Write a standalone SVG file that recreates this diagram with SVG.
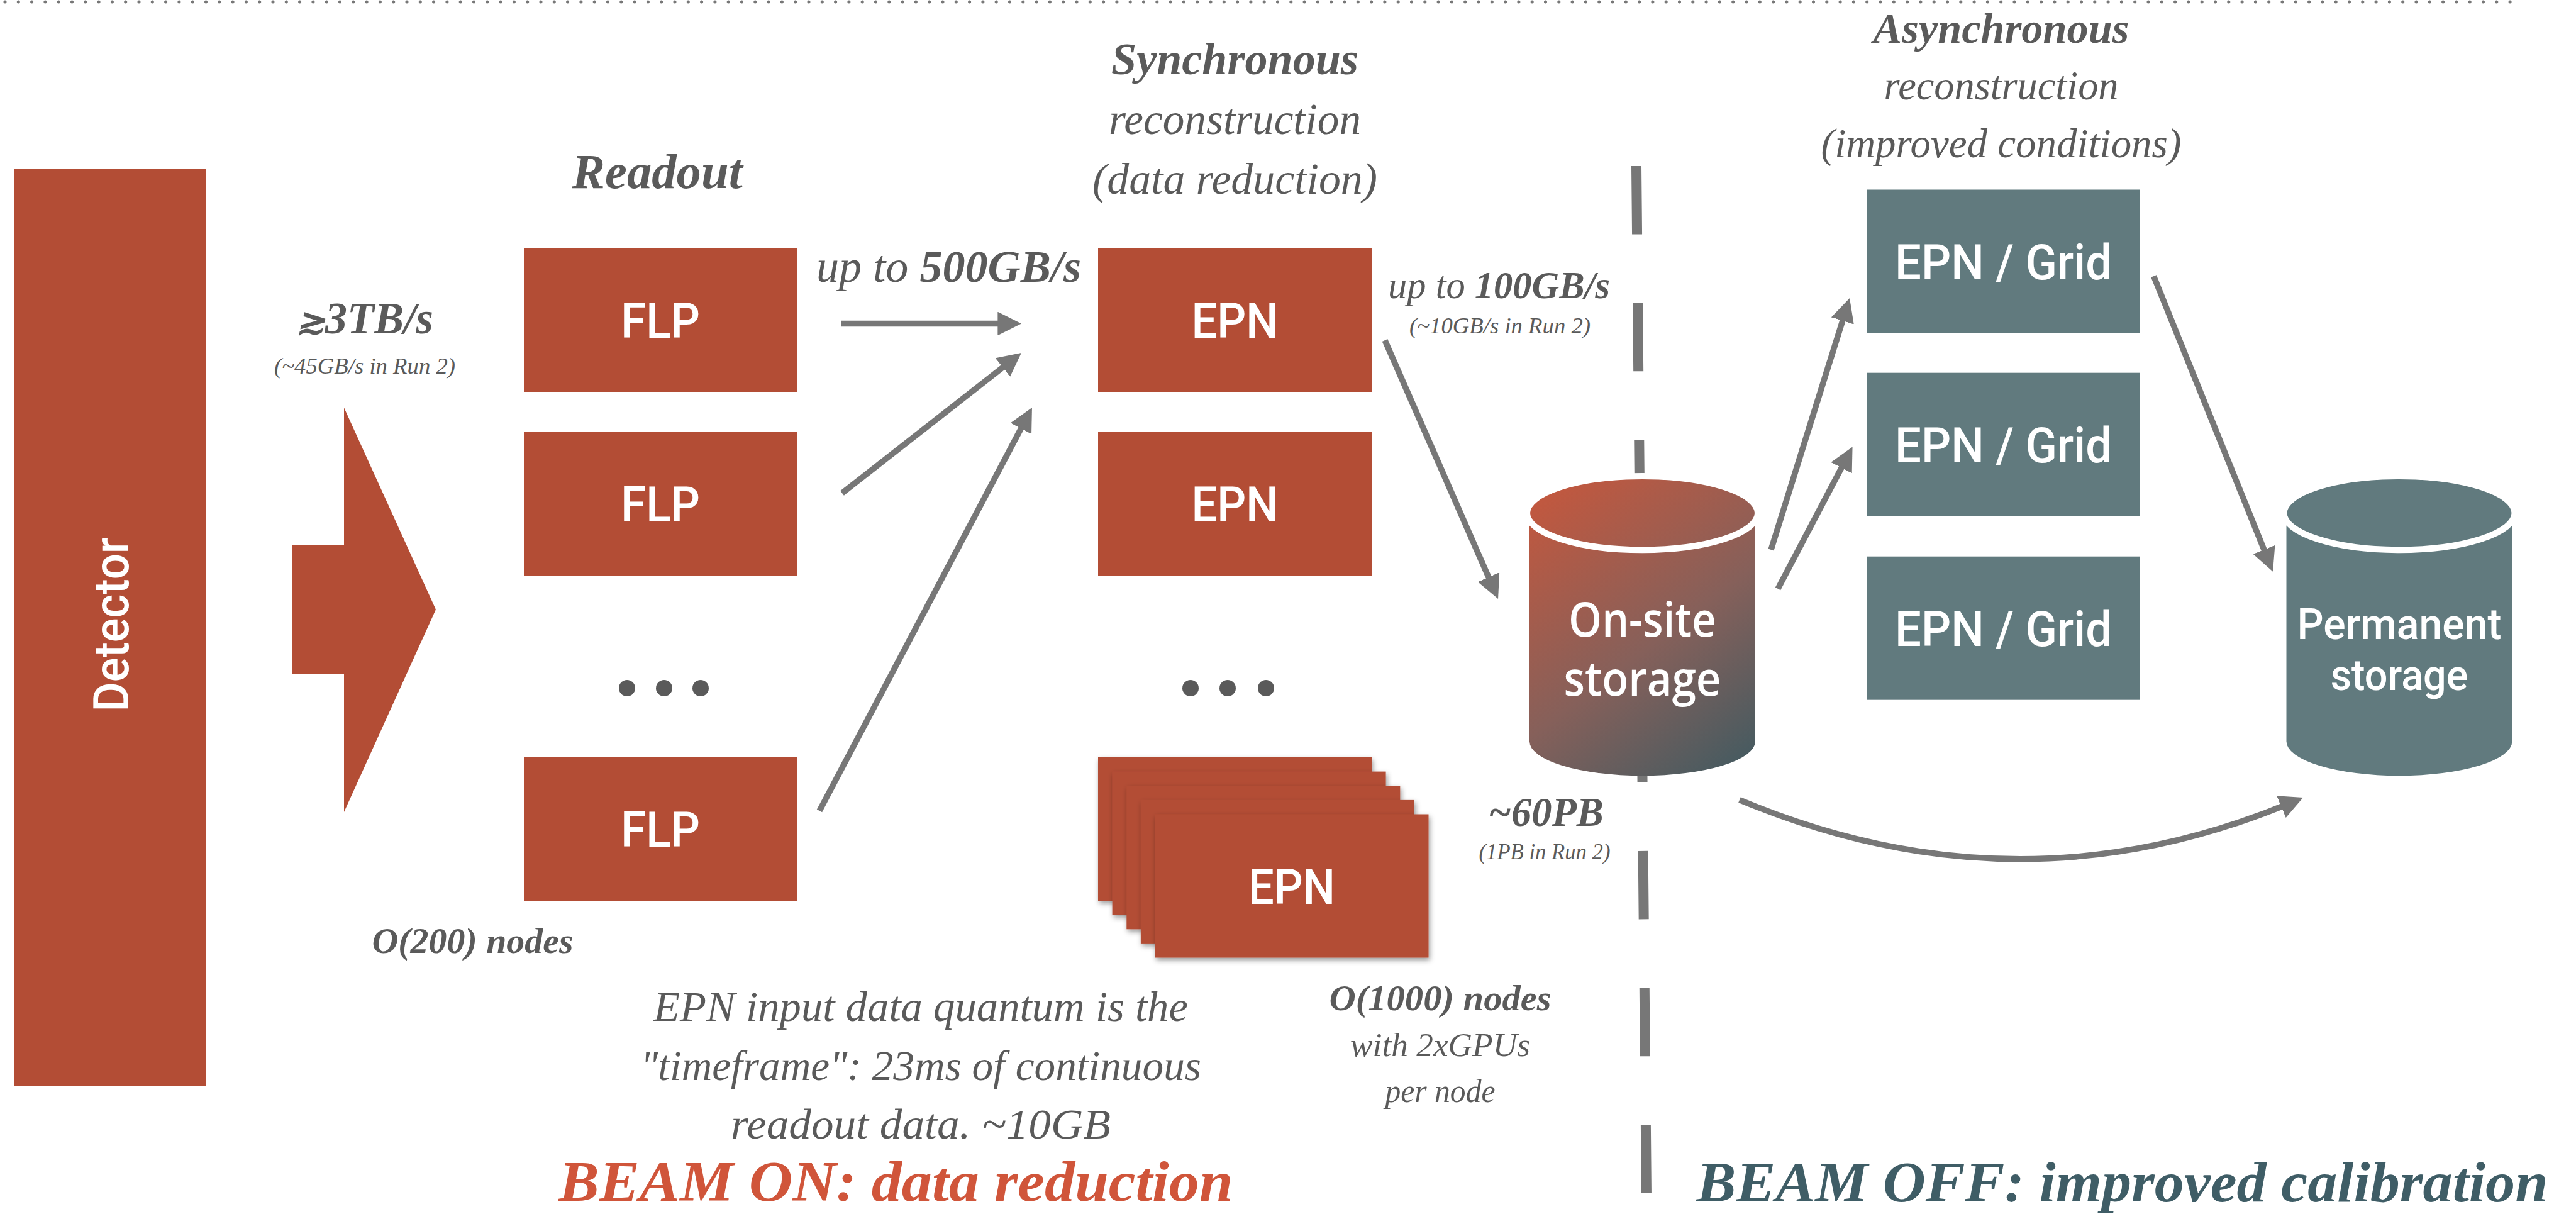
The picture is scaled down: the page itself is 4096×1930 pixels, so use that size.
<svg xmlns="http://www.w3.org/2000/svg" width="4096" height="1930" viewBox="0 0 4096 1930">
<defs>
<style>
.red{fill:#b34d35}
.slate{fill:#617a7e}
.lbl{font-family:Roboto,"Liberation Sans",sans-serif;font-weight:500;fill:#fff;text-anchor:middle;font-size:78px}
.note{font-family:"Liberation Serif","DejaVu Serif",serif;font-style:italic;fill:#5a5a5a;text-anchor:middle}
.b{font-weight:bold}
.conn{stroke:#777;stroke-width:9.4;fill:none;marker-end:url(#ah)}
.dot{fill:#5a5a5a}
</style>
<marker id="ah" viewBox="0 0 4 4" refX="2" refY="2" markerWidth="4" markerHeight="4" orient="auto" markerUnits="strokeWidth">
<path d="M0,0 L4,2 L0,4 Z" fill="#777"/>
</marker>
<linearGradient id="onsite" gradientUnits="userSpaceOnUse" x1="2432" y1="762" x2="2791" y2="1234">
<stop offset="0" stop-color="#c8573c"/>
<stop offset="0.55" stop-color="#86605a"/>
<stop offset="1" stop-color="#3f5a61"/>
</linearGradient>
<filter id="shadow" x="-10%" y="-10%" width="130%" height="140%">
<feDropShadow dx="2" dy="4" stdDeviation="4" flood-color="#000" flood-opacity="0.4"/>
</filter>
</defs>

<g id="top-rule">
<line x1="8" y1="3" x2="3992" y2="3" stroke="#777" stroke-width="5" stroke-linecap="round" stroke-dasharray="0 21.3"/>
</g>

<g id="divider">
<line x1="2602" y1="264" x2="2618" y2="1903" stroke="#777" stroke-width="16" stroke-dasharray="108.5 109.3"/>
</g>

<g id="detector">
<rect class="red" x="23" y="269" width="304" height="1458"/>
<text class="lbl" x="203.5" y="993" transform="rotate(-90 203.5 993)" textLength="277" lengthAdjust="spacingAndGlyphs">Detector</text>
</g>

<g id="input-arrow">
<polygon class="red" points="465,866 547,866 547,648 693,969 547,1291 547,1072 465,1072"/>
</g>

<g id="flp1"><rect class="red" x="833" y="395" width="434" height="228"/><text class="lbl" x="1050" y="537" textLength="126" lengthAdjust="spacingAndGlyphs">FLP</text></g>
<g id="flp2"><rect class="red" x="833" y="687" width="434" height="228"/><text class="lbl" x="1050" y="829" textLength="126" lengthAdjust="spacingAndGlyphs">FLP</text></g>
<g id="flp-dots"><circle class="dot" cx="997" cy="1094" r="13"/><circle class="dot" cx="1056" cy="1094" r="13"/><circle class="dot" cx="1114" cy="1094" r="13"/></g>
<g id="flp4"><rect class="red" x="833" y="1204" width="434" height="228"/><text class="lbl" x="1050" y="1346" textLength="126" lengthAdjust="spacingAndGlyphs">FLP</text></g>

<g id="epn1"><rect class="red" x="1746" y="395" width="435" height="228"/><text class="lbl" x="1963.5" y="537" textLength="138" lengthAdjust="spacingAndGlyphs">EPN</text></g>
<g id="epn2"><rect class="red" x="1746" y="687" width="435" height="228"/><text class="lbl" x="1963.5" y="829" textLength="138" lengthAdjust="spacingAndGlyphs">EPN</text></g>
<g id="epn-dots"><circle class="dot" cx="1893" cy="1094" r="13"/><circle class="dot" cx="1952" cy="1094" r="13"/><circle class="dot" cx="2013" cy="1094" r="13"/></g>
<g id="epn-stack">
<rect class="red" filter="url(#shadow)" x="1746" y="1204" width="435" height="228"/>
<rect class="red" filter="url(#shadow)" x="1768.6" y="1226.6" width="435" height="228"/>
<rect class="red" filter="url(#shadow)" x="1791.3" y="1249.3" width="435" height="228"/>
<rect class="red" filter="url(#shadow)" x="1813.9" y="1271.9" width="435" height="228"/>
<rect class="red" filter="url(#shadow)" x="1836.5" y="1294.5" width="435" height="228"/>
<text class="lbl" x="2054" y="1436.5" textLength="138" lengthAdjust="spacingAndGlyphs">EPN</text>
</g>

<g id="onsite-storage">
<path d="M2432,815.6 V1178.5 A179.5,54.7 0 0 0 2791,1178.5 V815.6 Z" fill="url(#onsite)"/>
<ellipse cx="2611.5" cy="815.6" rx="183.5" ry="58.7" fill="url(#onsite)" stroke="#fff" stroke-width="10"/>
<text class="lbl" style="font-family:'Open Sans','Liberation Sans',sans-serif;font-weight:600;font-size:76px" x="2611.5" y="1012" textLength="235" lengthAdjust="spacingAndGlyphs">On-site</text>
<text class="lbl" style="font-family:'Open Sans','Liberation Sans',sans-serif;font-weight:600;font-size:76px" x="2611.5" y="1106" textLength="250" lengthAdjust="spacingAndGlyphs">storage</text>
</g>

<g id="grid1"><rect class="slate" x="2968" y="301.5" width="435" height="228"/><text class="lbl" x="3185.5" y="443.5" textLength="345" lengthAdjust="spacingAndGlyphs">EPN / Grid</text></g>
<g id="grid2"><rect class="slate" x="2968" y="592.7" width="435" height="228"/><text class="lbl" x="3185.5" y="734.7" textLength="345" lengthAdjust="spacingAndGlyphs">EPN / Grid</text></g>
<g id="grid3"><rect class="slate" x="2968" y="884.7" width="435" height="228"/><text class="lbl" x="3185.5" y="1026.7" textLength="345" lengthAdjust="spacingAndGlyphs">EPN / Grid</text></g>

<g id="permanent-storage">
<path class="slate" d="M3635.5,815.6 V1178.5 A179.5,54.7 0 0 0 3994.5,1178.5 V815.6 Z"/>
<ellipse class="slate" cx="3815" cy="815.6" rx="183.5" ry="58.7" stroke="#fff" stroke-width="10"/>
<text class="lbl" style="font-size:68px" x="3815" y="1016" textLength="325" lengthAdjust="spacingAndGlyphs">Permanent</text>
<text class="lbl" style="font-size:68px" x="3815" y="1097.4" textLength="218.6" lengthAdjust="spacingAndGlyphs">storage</text>
</g>

<g id="connectors">
<line class="conn" x1="1337" y1="514.5" x2="1605.2" y2="514.5"/>
<line class="conn" x1="1339" y1="784" x2="1609.2" y2="572.6"/>
<line class="conn" x1="1303" y1="1289" x2="1632.2" y2="664.6"/>
<line class="conn" x1="2202" y1="541" x2="2374.5" y2="934.8"/>
<line class="conn" x1="2816" y1="874" x2="2935.4" y2="492"/>
<line class="conn" x1="2827" y1="936" x2="2936.8" y2="727.1"/>
<line class="conn" x1="3424.5" y1="439" x2="3607" y2="891.3"/>
<path class="conn" d="M2766,1271.6 Q3210,1458 3644.7,1275.3"/>
</g>

<g id="labels">
<text class="note b" x="1045" y="299" font-size="78.6" textLength="271" lengthAdjust="spacingAndGlyphs">Readout</text>
<text class="note b" x="580" y="529.5" font-size="72.6" textLength="218" lengthAdjust="spacingAndGlyphs"><tspan font-size="56">≳</tspan>3TB/s</text>
<text class="note" x="580" y="593.5" font-size="36.7" textLength="288" lengthAdjust="spacingAndGlyphs">(~45GB/s in Run 2)</text>
<text class="note" x="1508.5" y="448" font-size="72" textLength="421" lengthAdjust="spacingAndGlyphs">up to <tspan class="b">500GB/s</tspan></text>
<text class="note b" x="1963.5" y="118" font-size="71.7" textLength="393" lengthAdjust="spacingAndGlyphs">Synchronous</text>
<text class="note" x="1963.5" y="212.6" font-size="69.2" textLength="401" lengthAdjust="spacingAndGlyphs">reconstruction</text>
<text class="note" x="1963.5" y="308" font-size="69.2" textLength="453" lengthAdjust="spacingAndGlyphs">(data reduction)</text>
<text class="note" x="2383.5" y="474" font-size="60.6" textLength="353" lengthAdjust="spacingAndGlyphs">up to <tspan class="b">100GB/s</tspan></text>
<text class="note" x="2385" y="529.5" font-size="36.7" textLength="288" lengthAdjust="spacingAndGlyphs">(~10GB/s in Run 2)</text>
<text class="note b" x="2458" y="1312.6" font-size="64.5" textLength="183.6" lengthAdjust="spacingAndGlyphs">~60PB</text>
<text class="note" x="2456" y="1366" font-size="36.7" textLength="209" lengthAdjust="spacingAndGlyphs">(1PB in Run 2)</text>
<text class="note b" x="751.5" y="1515" font-size="58" textLength="320" lengthAdjust="spacingAndGlyphs">O(200) nodes</text>
<text class="note b" x="2290" y="1605.5" font-size="58" textLength="353" lengthAdjust="spacingAndGlyphs">O(1000) nodes</text>
<text class="note" x="2290" y="1679" font-size="53.4" textLength="286" lengthAdjust="spacingAndGlyphs">with 2xGPUs</text>
<text class="note" x="2290" y="1752" font-size="53.4" textLength="175" lengthAdjust="spacingAndGlyphs">per node</text>
<text class="note b" x="3182" y="67.5" font-size="66.6" textLength="407" lengthAdjust="spacingAndGlyphs">Asynchronous</text>
<text class="note" x="3182" y="158" font-size="64.5" textLength="373" lengthAdjust="spacingAndGlyphs">reconstruction</text>
<text class="note" x="3182" y="250" font-size="64.5" textLength="573" lengthAdjust="spacingAndGlyphs">(improved conditions)</text>
<text class="note" x="1464" y="1622.6" font-size="68.7" textLength="850" lengthAdjust="spacingAndGlyphs">EPN input data quantum is the</text>
<text class="note" x="1464" y="1716.5" font-size="68.7" textLength="892" lengthAdjust="spacingAndGlyphs">"timeframe": 23ms of continuous</text>
<text class="note" x="1464" y="1809.6" font-size="68.7" textLength="604" lengthAdjust="spacingAndGlyphs">readout data. ~10GB</text>
<text class="note b" x="1424.5" y="1909" font-size="90" style="fill:#d0553a" textLength="1072" lengthAdjust="spacingAndGlyphs">BEAM ON: data reduction</text>
<text class="note b" x="3374.6" y="1910" font-size="90" style="fill:#3f5d66" textLength="1354" lengthAdjust="spacingAndGlyphs">BEAM OFF: improved calibration</text>
</g>
</svg>
